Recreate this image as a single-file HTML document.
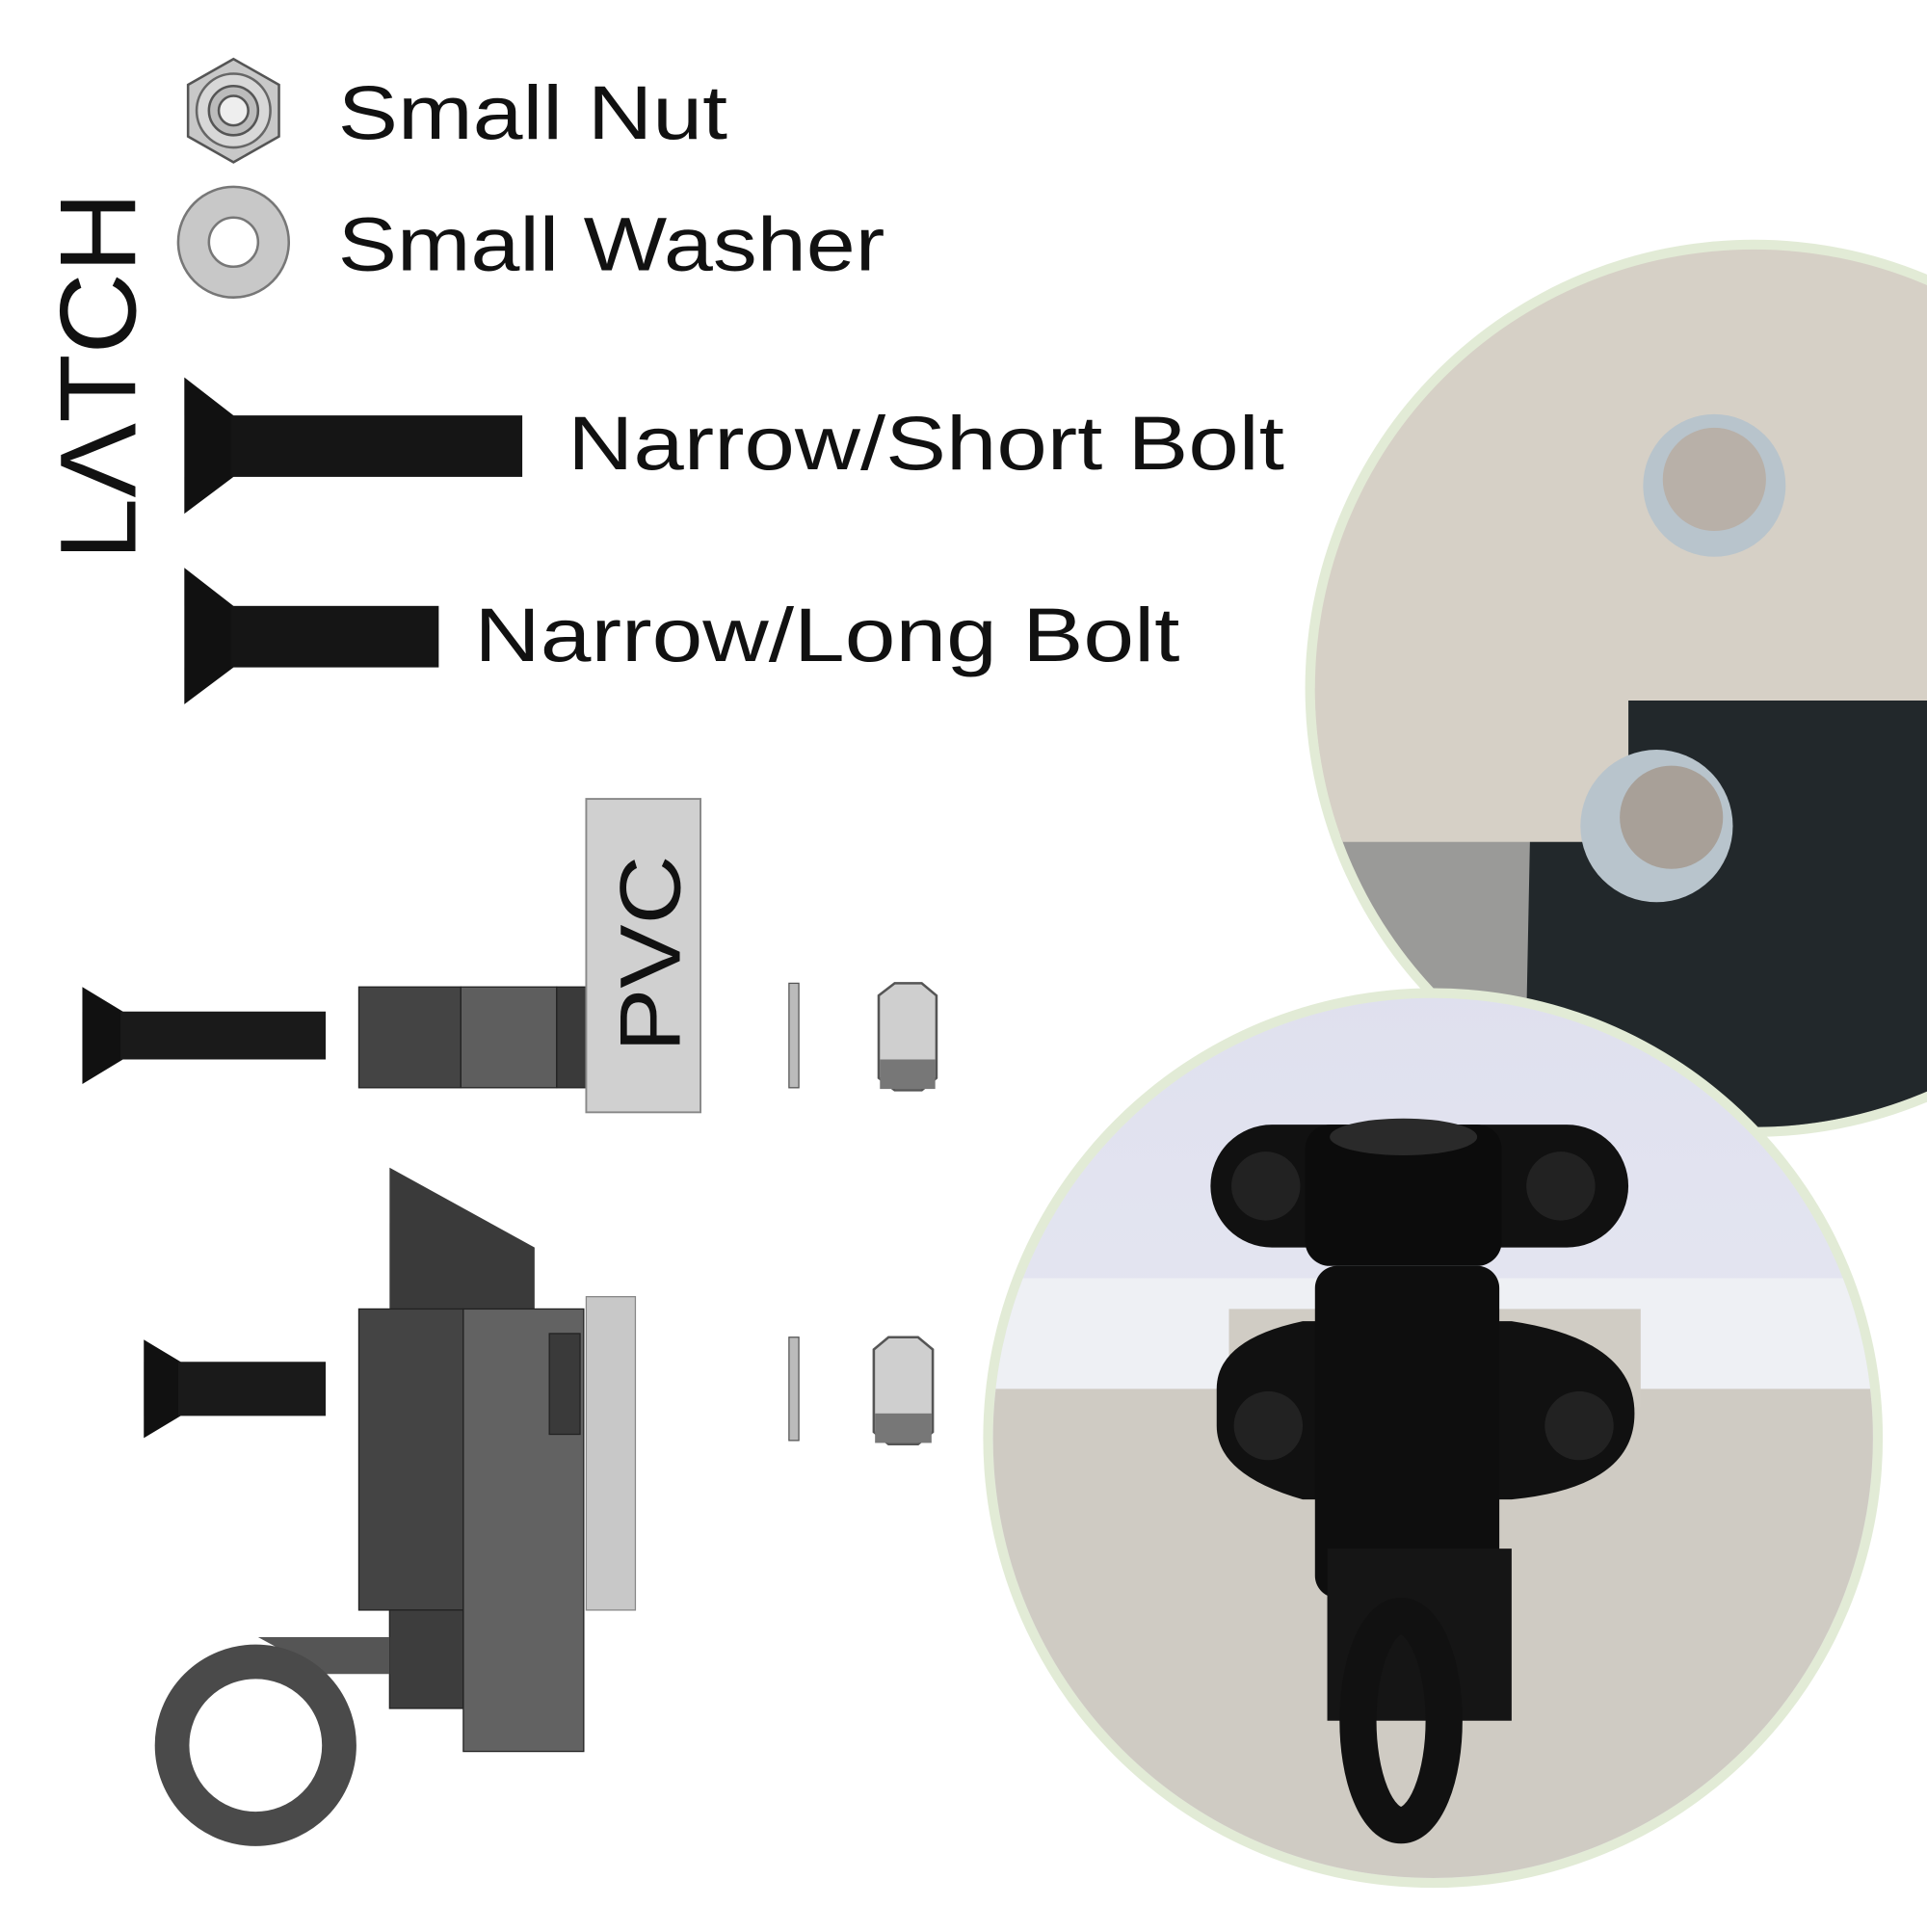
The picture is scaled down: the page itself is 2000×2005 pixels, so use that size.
<!DOCTYPE html>
<html><head><style>html,body{margin:0;padding:0;background:#fff}</style></head>
<body>
<svg width="2000" height="2000" viewBox="0 0 1568 1568" xmlns="http://www.w3.org/2000/svg" font-family="Liberation Sans, sans-serif">
<defs>
<clipPath id="c1"><circle cx="1427" cy="560" r="357"/></clipPath>
<clipPath id="c2"><circle cx="1166" cy="1170" r="358"/></clipPath>
<linearGradient id="bg2" x1="0" y1="0" x2="0" y2="1"><stop offset="0" stop-color="#dfe0ee"/><stop offset="1" stop-color="#eceef6"/></linearGradient>
</defs>
<rect width="1568" height="1568" fill="#fff"/>

<!-- LATCH -->
<text transform="translate(110,456) rotate(-90)" font-size="88" fill="#111" textLength="300" lengthAdjust="spacingAndGlyphs">LΛTCH</text>

<!-- nut icon -->
<polygon points="190,48 227,69 227,111 190,132 153,111 153,69" fill="#c8c8c8" stroke="#555" stroke-width="2"/>
<circle cx="190" cy="90" r="30" fill="#d8d8d8" stroke="#666" stroke-width="2"/>
<circle cx="190" cy="90" r="20" fill="#bbb" stroke="#555" stroke-width="2"/>
<circle cx="190" cy="90" r="12" fill="#eee" stroke="#555" stroke-width="2"/>
<text x="275" y="113" font-size="62" fill="#111" textLength="317" lengthAdjust="spacingAndGlyphs">Small Nut</text>

<!-- washer icon -->
<circle cx="190" cy="197" r="45" fill="#c8c8c8" stroke="#777" stroke-width="2"/>
<circle cx="190" cy="197" r="20" fill="#fff" stroke="#777" stroke-width="2"/>
<text x="275" y="220" font-size="62" fill="#111" textLength="445" lengthAdjust="spacingAndGlyphs">Small Washer</text>

<!-- bolts -->
<polygon points="150,307 190,338 190,388 150,418" fill="#111"/>
<rect x="188" y="338" width="237" height="50" fill="#151515"/>
<text x="462" y="382" font-size="62" fill="#111" textLength="583" lengthAdjust="spacingAndGlyphs">Narrow/Short Bolt</text>
<polygon points="150,462 190,493 190,543 150,573" fill="#111"/>
<rect x="188" y="493" width="169" height="50" fill="#151515"/>
<text x="386" y="538" font-size="62" fill="#111" textLength="574" lengthAdjust="spacingAndGlyphs">Narrow/Long Bolt</text>

<!-- top exploded -->
<polygon points="67,803 100,823 100,862 67,882" fill="#111"/>
<rect x="98" y="823" width="167" height="39" fill="#1a1a1a"/>
<rect x="292" y="803" width="83" height="82" fill="#444" stroke="#222"/>
<rect x="375" y="803" width="78" height="82" fill="#5e5e5e" stroke="#222"/>
<rect x="453" y="803" width="24" height="82" fill="#3a3a3a" stroke="#222"/>
<rect x="477" y="650" width="93" height="255" fill="#d0d0d0" stroke="#888" stroke-width="1.5"/>
<text transform="translate(553,856) rotate(-90)" font-size="70" fill="#111" textLength="160" lengthAdjust="spacingAndGlyphs">PVC</text>
<rect x="642" y="800" width="8" height="85" fill="#bbb" stroke="#555"/>
<polygon points="715,810 728,800 750,800 762,810 762,877 750,887 728,887 715,877" fill="#cfcfcf" stroke="#555" stroke-width="2"/>
<rect x="716" y="862" width="45" height="24" fill="#777"/>

<!-- bottom exploded -->
<polygon points="317,950 435,1015 435,1070 317,1070" fill="#3a3a3a"/>
<rect x="292" y="1065" width="85" height="245" fill="#444" stroke="#222"/>
<rect x="317" y="1310" width="60" height="80" fill="#3d3d3d" stroke="#222"/>
<rect x="377" y="1065" width="98" height="360" fill="#626262" stroke="#222"/>
<rect x="447" y="1085" width="25" height="82" fill="#3a3a3a" stroke="#222"/>
<rect x="477" y="1055" width="40" height="255" fill="#c8c8c8" stroke="#888"/>
<path d="M210,1332 L317,1332 L317,1362 L265,1362 Z" fill="#555"/>
<circle cx="208" cy="1420" r="68" fill="none" stroke="#4a4a4a" stroke-width="28"/>
<polygon points="117,1090 147,1108 147,1152 117,1170" fill="#111"/>
<rect x="145" y="1108" width="120" height="44" fill="#1a1a1a"/>
<rect x="642" y="1088" width="8" height="84" fill="#bbb" stroke="#555"/>
<polygon points="711,1098 723,1088 747,1088 759,1098 759,1165 747,1175 723,1175 711,1165" fill="#cfcfcf" stroke="#555" stroke-width="2"/>
<rect x="712" y="1150" width="46" height="24" fill="#777"/>

<!-- photo 1 -->
<circle cx="1427" cy="560" r="365" fill="#e2ebd6"/>
<g clip-path="url(#c1)">
<rect x="1060" y="190" width="520" height="740" fill="#d6d0c6"/>
<rect x="1060" y="680" width="520" height="260" fill="#9a9a98"/>
<path d="M1325,570 L1568,570 L1568,930 L1240,930 L1245,680 L1325,680 Z" fill="#22282b"/>
<rect x="1060" y="560" width="265" height="125" fill="#d6d0c6"/>
<circle cx="1395" cy="395" r="58" fill="#b8c4cc"/>
<circle cx="1395" cy="390" r="42" fill="#b8b0a8"/>
<circle cx="1348" cy="672" r="62" fill="#b8c4cc"/>
<circle cx="1360" cy="665" r="42" fill="#a8a098"/>
</g>

<!-- photo 2 -->
<circle cx="1166" cy="1170" r="366" fill="#e2ebd6"/>
<g clip-path="url(#c2)">
<rect x="800" y="800" width="740" height="740" fill="url(#bg2)"/>
<rect x="800" y="1040" width="740" height="100" fill="#eef0f4"/>
<rect x="800" y="1130" width="740" height="420" fill="#cfcbc3"/>
<rect x="1000" y="1065" width="335" height="80" fill="#d0ccc4"/>
<rect x="985" y="915" width="340" height="100" rx="50" fill="#111"/>
<circle cx="1030" cy="965" r="28" fill="#222"/>
<circle cx="1270" cy="965" r="28" fill="#222"/>
<rect x="1062" y="915" width="160" height="115" rx="20" fill="#0c0c0c"/>
<ellipse cx="1142" cy="925" rx="60" ry="15" fill="#2a2a2a"/>
<path d="M990,1130 Q990,1090 1060,1075 L1230,1075 Q1330,1090 1330,1150 Q1330,1210 1230,1220 L1060,1220 Q990,1200 990,1160 Z" fill="#111"/>
<circle cx="1032" cy="1160" r="28" fill="#222"/>
<circle cx="1285" cy="1160" r="28" fill="#222"/>
<rect x="1070" y="1030" width="150" height="270" rx="18" fill="#0e0e0e"/>
<rect x="1080" y="1260" width="150" height="140" fill="#151515"/>
<ellipse cx="1140" cy="1400" rx="35" ry="85" fill="none" stroke="#111" stroke-width="30"/>
</g>
</svg>
</body></html>
